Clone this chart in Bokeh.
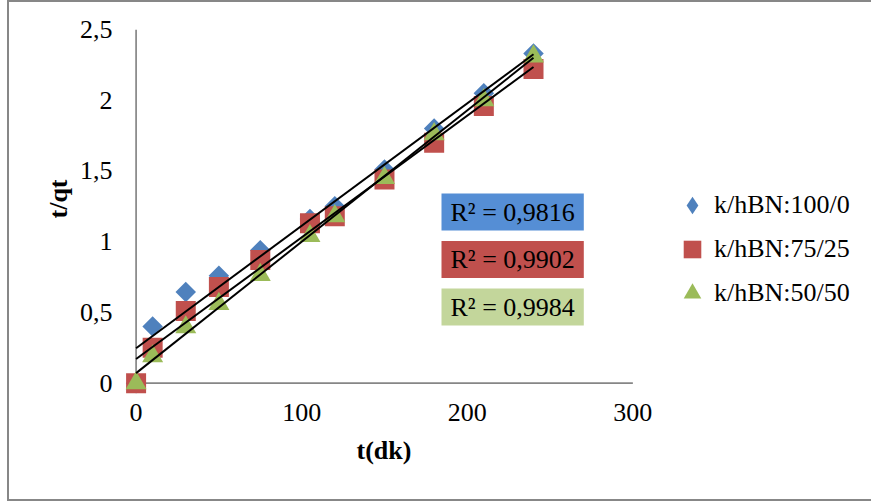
import numpy as np
from bokeh.plotting import figure
from bokeh.models import (Range1d, FixedTicker, Legend, LegendItem, Label, Title)
from bokeh.embed import file_html
from bokeh.resources import INLINE

# ---- data ----
t_min = [0, 10, 30, 50, 75, 105, 120, 150, 180, 210, 240]
s_100_0 = [0, 0.40, 0.645, 0.76, 0.94, 1.16, 1.25, 1.51, 1.80, 2.05, 2.33]
s_75_25 = [0, 0.25, 0.51, 0.68, 0.87, 1.13, 1.18, 1.44, 1.70, 1.96, 2.22]
s_50_50 = [0, 0.19, 0.395, 0.56, 0.765, 1.04, 1.18, 1.45, 1.76, 2.00, 2.31]
series_names = ["k/hBN:100/0", "k/hBN:75/25", "k/hBN:50/50"]
r2_texts = ["R² = 0,9816", "R² = 0,9902", "R² = 0,9984"]
x_title = "t(dk)"
y_title = "t/qt"
x_ticks = [0, 100, 200, 300]
y_ticks = [0, 0.5, 1.0, 1.5, 2.0, 2.5]
y_tick_labels = ["0", "0,5", "1", "1,5", "2", "2,5"]
X_MAX = 300
Y_MAX = 2.5

FONT = "Liberation Serif"
AXIS_GRAY = "#868686"

# the frame extends to the right so that the legend and R² boxes sit inside it
p = figure(width=864, height=501, output_backend="svg", toolbar_location=None,
           x_range=Range1d(-7, 442.3), y_range=Range1d(-0.08, Y_MAX),
           min_border_left=115, min_border_right=5,
           min_border_top=27, min_border_bottom=109)
p.styles = {"margin-left": "7px",
            "border-top": "2px solid #878787",
            "border-left": "2px solid #878787",
            "border-bottom": "2px solid #878787"}
p.outline_line_color = None
p.grid.visible = False
p.background_fill_color = "white"
p.border_fill_color = "white"

# axes (lines drawn separately so they cross at the origin)
for ax in (p.xaxis[0], p.yaxis[0]):
    ax.axis_line_color = None
    ax.major_tick_line_color = None
    ax.minor_tick_line_color = None
    ax.major_tick_in = 0
    ax.major_tick_out = 0
    ax.minor_tick_in = 0
    ax.minor_tick_out = 0
    ax.major_label_text_font = FONT
    ax.major_label_text_font_size = "26px"
    ax.major_label_text_color = "black"

p.xaxis[0].ticker = FixedTicker(ticks=x_ticks)
p.xaxis[0].major_label_standoff = 9

p.yaxis[0].ticker = FixedTicker(ticks=y_ticks)
p.yaxis[0].major_label_overrides = {float(v): lab for v, lab in zip(y_ticks, y_tick_labels)}
p.yaxis[0].major_label_standoff = 12

# axis titles, placed along the 0..300 / 0..2.5 part of the frame
p.add_layout(Title(text=x_title, align="left", offset=232, vertical_align="top",
                   standoff=24, text_font=FONT, text_font_size="26px",
                   text_font_style="bold", text_color="black"), "below")
p.add_layout(Title(text=y_title, align="left", offset=176,
                   standoff=8, text_font=FONT, text_font_size="26px",
                   text_font_style="bold", text_color="black"), "left")

# axis lines
p.segment(x0=[0, 0], y0=[0, 0], x1=[X_MAX, 0], y1=[0, Y_MAX],
          line_color=AXIS_GRAY, line_width=1.7)

# colours
marker_cols = ["#4F81BD", "#C0504D", "#9BBB59"]
box_cols = ["#558ED5", "#C0504D", "#C3D69B"]

# points
r_blue = p.scatter(t_min, s_100_0, marker="square", size=14.5, angle=np.pi / 4,
                   fill_color=marker_cols[0], line_color=None)
r_red = p.scatter(t_min, s_75_25, marker="square", size=20,
                  fill_color=marker_cols[1], line_color=None)
r_green = p.scatter(t_min, s_50_50, marker="triangle", size=21,
                    fill_color=marker_cols[2], line_color=None)
# legend swatch for the diamond series (legend swatches ignore glyph angle)
r_blue_key = p.scatter(t_min, s_100_0, marker="diamond", size=0,
                       fill_color=marker_cols[0], line_color=None)

# linear trend lines
xs = np.array(t_min, dtype=float)
for ys in (s_100_0, s_75_25, s_50_50):
    k, b = np.polyfit(xs, np.array(ys), 1)
    xx = np.array([xs.min(), xs.max()])
    p.line(xx, k * xx + b, line_color="black", line_width=2)

# R² boxes
for i, (txt, col) in enumerate(zip(r2_texts, box_cols)):
    lab = Label(x=317, y=164 - i * 47.5, x_units="screen", y_units="screen",
                text=txt, text_font=FONT, text_font_size="26px",
                text_color="black", text_align="left", text_baseline="bottom",
                background_fill_color=col, background_fill_alpha=1.0,
                padding=(9, 4))
    p.add_layout(lab)

# legend
legend = Legend(items=[LegendItem(label=series_names[0], renderers=[r_blue_key]),
                       LegendItem(label=series_names[1], renderers=[r_red]),
                       LegendItem(label=series_names[2], renderers=[r_green])],
                location=(546, 79), orientation="vertical",
                glyph_width=44, glyph_height=44, spacing=0,
                label_standoff=0, padding=0, margin=0,
                border_line_color=None, background_fill_alpha=0,
                label_text_font=FONT, label_text_font_size="26px",
                label_text_color="black")
p.add_layout(legend)

open("out.html", "w").write(file_html(p, INLINE))
